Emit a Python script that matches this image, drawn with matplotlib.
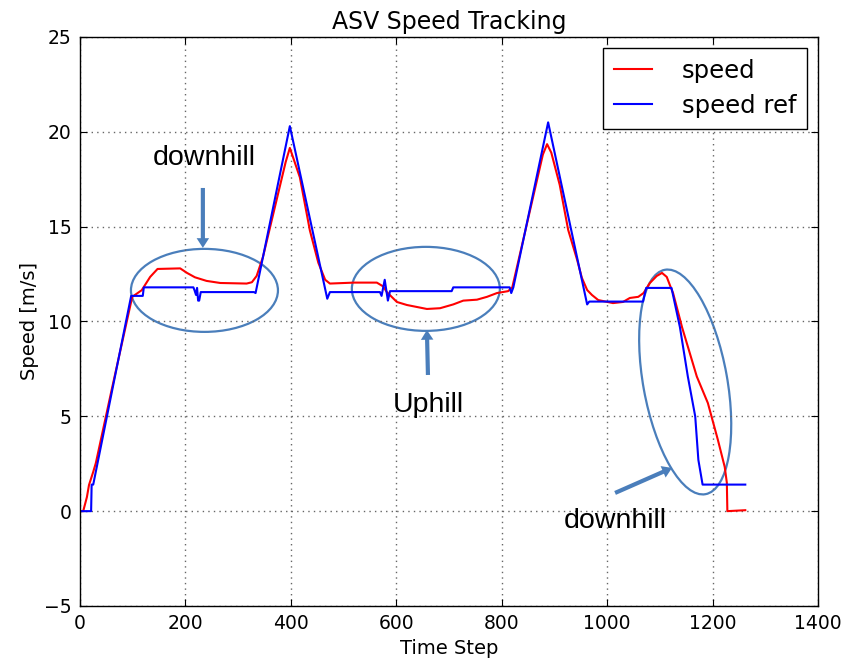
import matplotlib
matplotlib.use('Agg')
import matplotlib.pyplot as plt
from matplotlib.patches import Ellipse
from matplotlib.transforms import ScaledTranslation

# speed reference (blue), breakpoints
ref_t = [0, 21, 22, 25, 97, 119, 121, 215, 217, 220, 222, 224, 226, 229, 330, 333,
         398, 469, 474, 569, 572, 578, 584, 588, 705, 708, 815, 818, 822,
         888, 962, 966, 1068, 1074, 1122, 1138, 1153, 1167, 1173, 1181, 1262]
ref_v = [0, 0, 1.4, 1.4, 11.35, 11.35, 11.8, 11.8, 11.66, 11.4, 11.77, 11.1, 11.1, 11.55, 11.55, 11.5,
         20.3, 11.2, 11.55, 11.55, 11.35, 12.2, 11.1, 11.6, 11.6, 11.8, 11.8, 11.5, 11.8,
         20.5, 10.9, 11.05, 11.05, 11.77, 11.77, 9.7, 7.1, 5.0, 2.7, 1.4, 1.4]

# measured speed (red)
spd_t = [0, 6, 13, 17, 25, 30, 60, 99, 117, 133, 147, 190, 203, 218, 240, 266, 316, 326, 335,
         347, 390, 398, 406, 417, 436, 452, 465, 474, 520, 563, 575, 582, 601, 620, 658, 683,
         708, 727, 753, 772, 791, 812, 820, 878, 886, 894, 910, 926, 943, 952, 962, 971, 983,
         1011, 1030, 1043, 1059, 1069, 1081, 1094, 1104, 1113, 1121, 1125, 1142, 1170, 1191,
         1210, 1223, 1227, 1228, 1262]
spd_v = [0, 0, 0.74, 1.38, 2.07, 2.54, 6.4, 11.3, 11.65, 12.35, 12.77, 12.8, 12.56, 12.33, 12.14, 12.03, 12.0, 12.07, 12.4,
         13.4, 18.4, 19.15, 18.5, 17.6, 14.8, 13.1, 12.2, 12.0, 12.05, 12.05, 11.85, 11.55, 11.03, 10.87, 10.66, 10.7,
         10.9, 11.1, 11.15, 11.3, 11.5, 11.6, 11.8, 18.8, 19.35, 18.9, 17.2, 14.83, 13.25, 12.3, 11.66, 11.4, 11.13,
         10.97, 11.03, 11.24, 11.3, 11.5, 12.03, 12.4, 12.56, 12.35, 11.77, 11.5, 9.7, 7.1, 5.7,
         3.76, 2.33, 1.5, 0.0, 0.05]

ann_color = '#4a7ebb'

fig = plt.figure(figsize=(8.47, 6.69), dpi=100)
ax = fig.add_axes([0.0945, 0.0942, 0.8713, 0.8505])

ax.plot(spd_t, spd_v, color='red', lw=1.5, label='speed')
ax.plot(ref_t, ref_v, color='blue', lw=1.5, label='speed ref')

ax.set_xlim(0, 1400)
ax.set_ylim(-5, 25)
ax.set_xticks(range(0, 1401, 200))
ax.set_yticks(range(-5, 26, 5))
ax.grid(True, color='0.4', linestyle=(0, (1, 3)), linewidth=1)
ax.tick_params(direction='in', top=True, right=True, length=5, labelsize=13.5, pad=6)
for s in ax.spines.values():
    s.set_linewidth(1)

ax.set_title('ASV Speed Tracking', fontsize=17)
ax.set_xlabel('Time Step', fontsize=14)
ax.set_ylabel('Speed [m/s]', fontsize=14)

leg = ax.legend(loc='upper right', fontsize=17.5, fancybox=False, framealpha=1,
                edgecolor='black', borderaxespad=0.45, handlelength=1.6,
                handletextpad=1.2, labelspacing=0.45, borderpad=0.45)
leg.get_frame().set_linewidth(1)

# ellipses sized in inches, centred in data coordinates
ellipses = [((236, 11.64), 1.47, 0.83, 0), ((656, 11.72), 1.48, 0.84, 0),
            ((1148, 6.81), 0.84, 2.28, 10.25)]
for (cx, cy), w, h, ang in ellipses:
    tr = fig.dpi_scale_trans + ScaledTranslation(cx, cy, ax.transData)
    ax.add_patch(Ellipse((0, 0), w, h, angle=ang, transform=tr, fill=False,
                         edgecolor=ann_color, lw=1.6, clip_on=False))

arrow = dict(arrowstyle='simple,head_width=0.9,head_length=0.7,tail_width=0.3',
             mutation_scale=10, fc=ann_color, ec=ann_color, lw=0, shrinkA=0, shrinkB=0)
ax.annotate('', xy=(233, 13.88), xytext=(233, 17.04), arrowprops=arrow)
ax.annotate('', xy=(658, 9.55), xytext=(660, 7.18), arrowprops=arrow)
ax.annotate('', xy=(1123, 2.28), xytext=(1015, 0.96), arrowprops=arrow)

tk = dict(fontsize=20.5, family='Liberation Sans', ha='center', va='baseline')
ax.text(236, 18.25, 'downhill', **tk)
ax.text(660, 5.23, 'Uphill', **tk)
ax.text(1015, -0.88, 'downhill', **tk)

fig.savefig('out.png', dpi=100, facecolor='white')
